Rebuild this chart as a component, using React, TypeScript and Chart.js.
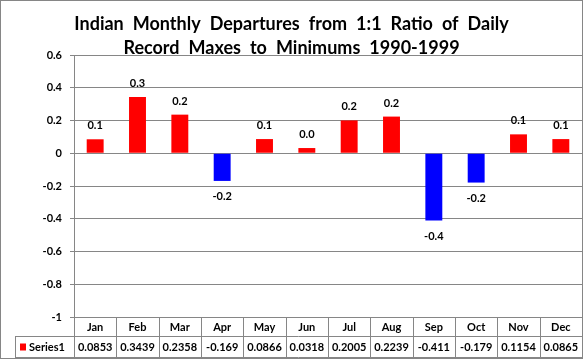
import React, { useEffect, useRef } from "react";
import { Chart, registerables } from "chart.js";

Chart.register(...registerables);

const months = ["Jan", "Feb", "Mar", "Apr", "May", "Jun", "Jul", "Aug", "Sep", "Oct", "Nov", "Dec"];
const series1 = [0.0853, 0.3439, 0.2358, -0.169, 0.0866, 0.0318, 0.2005, 0.2239, -0.411, -0.179, 0.1154, 0.0865];
const tableText = ["0.0853", "0.3439", "0.2358", "-0.169", "0.0866", "0.0318", "0.2005", "0.2239", "-0.411", "-0.179", "0.1154", "0.0865"];
const titleLines = ["Indian Monthly Departures from 1:1 Ratio of Daily", "Record Maxes to Minimums 1990-1999"];
const seriesName = "Series1";

const FONT = "Lato, 'Open Sans', sans-serif";
const GRID = "#868686";

function drawSpaced(ctx: CanvasRenderingContext2D, text: string, cx: number, y: number, extra: number) {
  const words = text.split(" ");
  const sp = ctx.measureText(" ").width + extra;
  const widths = words.map((w) => ctx.measureText(w).width);
  const total = widths.reduce((a, b) => a + b, 0) + sp * (words.length - 1);
  let x = cx - total / 2;
  ctx.textAlign = "left";
  words.forEach((w, i) => {
    ctx.fillText(w, x, y);
    x += widths[i] + sp;
  });
}

export default function App() {
  const ref = useRef<HTMLCanvasElement>(null);
  useEffect(() => {
    document.body.style.margin = "0";
    const canvas = ref.current!;
    const overlay = {
      id: "overlay",
      afterDraw(chart: any) {
        const ctx = chart.ctx as CanvasRenderingContext2D;
        const area = chart.chartArea;
        const xs = chart.scales.x;
        ctx.save();
        // title
        ctx.fillStyle = "#000";
        ctx.font = `bold 18px ${FONT}`;
        ctx.textBaseline = "alphabetic";
        const w1 = ctx.measureText(titleLines[0]).width;
        const extra = Math.max(0, (439 - w1) / 8);
        drawSpaced(ctx, titleLines[0], 291.5, 30, extra);
        drawSpaced(ctx, titleLines[1], 291.5, 54, extra);
        // data labels
        const meta = chart.getDatasetMeta(0);
        ctx.font = `bold 11px ${FONT}`;
        ctx.textAlign = "center";
        meta.data.forEach((bar: any, i: number) => {
          const v = series1[i];
          const txt = v.toFixed(1);
          if (v >= 0) ctx.fillText(txt, bar.x, bar.y - 10);
          else ctx.fillText(txt, bar.x, bar.y + 19);
        });
        // table
        const top = area.bottom;
        const mid = top + 19;
        const bot = 357;
        const left = area.left;
        const right = area.right;
        const colW = (right - left) / months.length;
        ctx.strokeStyle = GRID;
        ctx.lineWidth = 1;
        ctx.beginPath();
        ctx.moveTo(15, mid + 0.5);
        ctx.lineTo(right, mid + 0.5);
        ctx.moveTo(15, bot + 0.5);
        ctx.lineTo(right, bot + 0.5);
        ctx.moveTo(15.5, mid);
        ctx.lineTo(15.5, bot);
        for (let i = 0; i <= months.length; i++) {
          const x = Math.round(left + i * colW) + 0.5;
          ctx.moveTo(x, top);
          ctx.lineTo(x, bot);
        }
        ctx.stroke();
        ctx.fillStyle = "#000";
        ctx.font = `bold 11px ${FONT}`;
        ctx.textBaseline = "middle";
        ctx.textAlign = "center";
        months.forEach((m, i) => {
          const cx = xs.getPixelForValue(i);
          ctx.fillText(m, cx, (top + mid) / 2 + 1);
          ctx.fillText(tableText[i], cx, (mid + bot) / 2 + 1);
        });
        ctx.fillStyle = "#FF0000";
        ctx.fillRect(20, (mid + bot) / 2 - 3, 6, 7);
        ctx.fillStyle = "#000";
        ctx.textAlign = "left";
        ctx.fillText(seriesName, 29, (mid + bot) / 2 + 1);
        // outer border
        ctx.strokeStyle = GRID;
        ctx.strokeRect(0.5, 0.5, 582, 358);
        ctx.restore();
      },
    };
    const chart = new Chart(canvas, {
      type: "bar",
      data: {
        labels: months,
        datasets: [
          {
            label: seriesName,
            data: series1,
            backgroundColor: series1.map((v) => (v >= 0 ? "#FF0000" : "#0000FF")),
            categoryPercentage: 1,
            barPercentage: 0.4,
          },
        ],
      },
      options: {
        animation: false,
        responsive: false,
        maintainAspectRatio: false,
        layout: { padding: { top: 55, bottom: 42, left: 0, right: 1 } },
        plugins: { legend: { display: false }, title: { display: false }, tooltip: { enabled: false } },
        scales: {
          x: { display: false },
          y: {
            min: -1,
            max: 0.6,
            afterFit: (s: any) => {
              s.width = 74;
            },
            ticks: {
              stepSize: 0.2,
              padding: 8,
              color: "#000",
              font: { family: FONT, size: 11, weight: "bold" },
              callback: (v: any) => {
                const n = Math.round(Number(v) * 10) / 10;
                return n === 0 ? "0" : String(n);
              },
            },
            grid: { color: GRID, tickLength: 4, drawTicks: true },
            border: { color: GRID },
          },
        },
      },
      plugins: [overlay],
    });
    return () => chart.destroy();
  }, []);
  return (
    <div style={{ width: 583, height: 359, background: "#fff" }}>
      <canvas ref={ref} width={583} height={359} style={{ display: "block" }} />
    </div>
  );
}
